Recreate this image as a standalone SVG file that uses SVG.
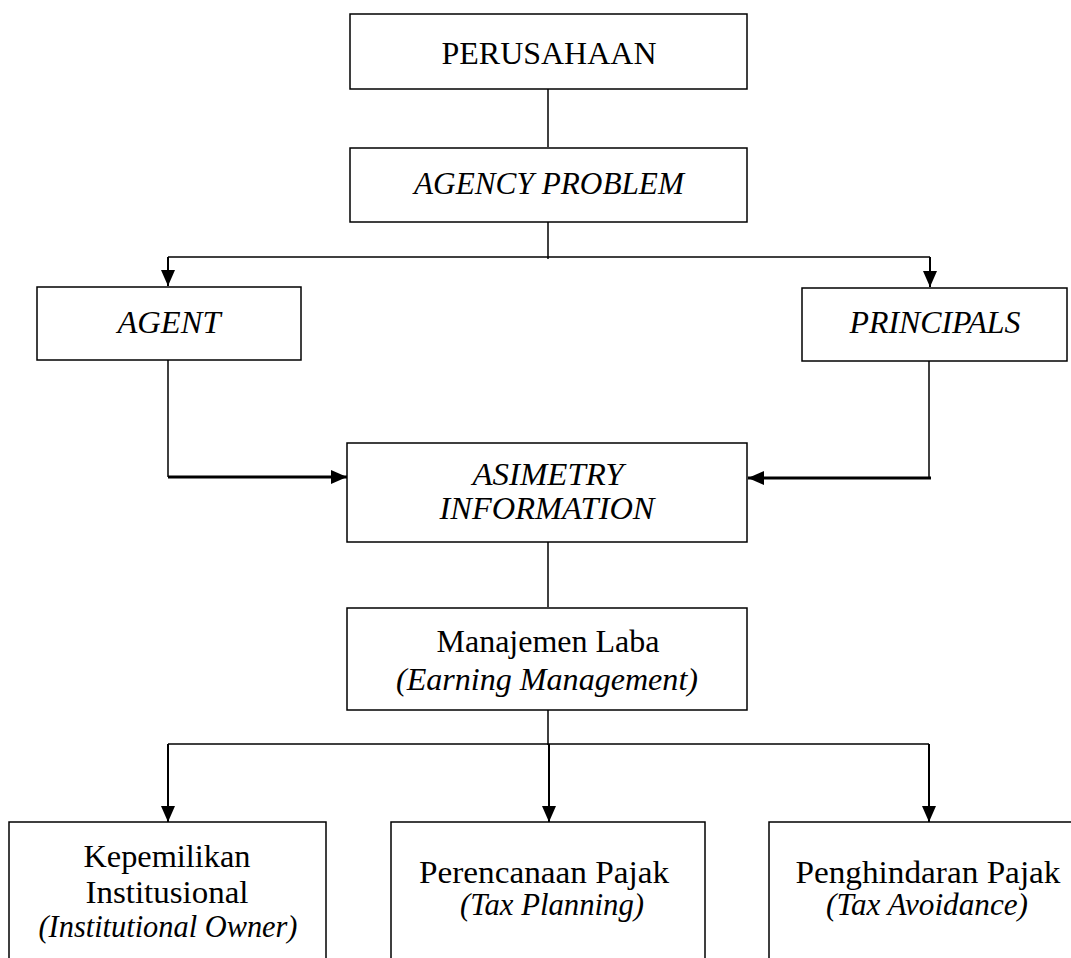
<svg xmlns="http://www.w3.org/2000/svg" width="1071" height="958" viewBox="0 0 1071 958">
<style>
.box{fill:#fff;stroke:#000;stroke-width:1.5}
.t{font-family:"Liberation Serif","Times New Roman",serif;font-size:31px;fill:#000;text-anchor:middle}
.i{font-style:italic}
.ln{stroke:#000;stroke-width:1.5;fill:none}
.ar{stroke:#000;stroke-width:2;fill:none;marker-end:url(#ah)}
.arb{stroke:#000;stroke-width:3;fill:none;marker-end:url(#ah)}
</style>
<defs>
<marker id="ah" markerUnits="userSpaceOnUse" markerWidth="16" markerHeight="14" viewBox="0 0 16 14" refX="16" refY="7" orient="auto">
<path d="M0,0 L16,7 L0,14 Z" fill="#000"/>
</marker>
</defs>
<rect width="1071" height="958" fill="#fff"/>
<g id="connectors">
<line class="ln" x1="548" y1="89" x2="548" y2="147"/>
<line class="ln" x1="548" y1="222" x2="548" y2="259"/>
<line class="ln" x1="168" y1="257" x2="930" y2="257"/>
<line class="ar" x1="168" y1="257" x2="168" y2="286"/>
<line class="ar" x1="930" y1="257" x2="930" y2="287"/>
<line class="ln" x1="168" y1="360" x2="168" y2="477"/>
<line class="arb" x1="168" y1="477" x2="347" y2="477"/>
<line class="ln" x1="929" y1="361" x2="929" y2="478"/>
<line class="arb" x1="931" y1="478" x2="748" y2="478"/>
<line class="ln" x1="548" y1="542" x2="548" y2="607"/>
<line class="ln" x1="548" y1="710" x2="548" y2="745"/>
<line class="ln" x1="168" y1="744" x2="929" y2="744"/>
<line class="ar" x1="168" y1="744" x2="168" y2="822"/>
<line class="ar" x1="549" y1="744" x2="549" y2="822"/>
<line class="ar" x1="929" y1="744" x2="929" y2="822"/>
</g>
<g id="perusahaan">
<rect class="box" x="350" y="14" width="397" height="75"/>
<text class="t" x="549" y="64" textLength="215" lengthAdjust="spacingAndGlyphs">PERUSAHAAN</text>
</g>
<g id="agency-problem">
<rect class="box" x="350" y="148" width="397" height="74"/>
<text class="t i" x="549" y="194" textLength="270" lengthAdjust="spacingAndGlyphs">AGENCY PROBLEM</text>
</g>
<g id="agent">
<rect class="box" x="37" y="287" width="264" height="73"/>
<text class="t i" x="169" y="333" textLength="103" lengthAdjust="spacingAndGlyphs">AGENT</text>
</g>
<g id="principals">
<rect class="box" x="802" y="288" width="265" height="73"/>
<text class="t i" x="935" y="333" textLength="171" lengthAdjust="spacingAndGlyphs">PRINCIPALS</text>
</g>
<g id="asimetry-information">
<rect class="box" x="347" y="443" width="400" height="99"/>
<text class="t i" x="548" y="485" textLength="151" lengthAdjust="spacingAndGlyphs">ASIMETRY</text>
<text class="t i" x="547" y="519" textLength="215" lengthAdjust="spacingAndGlyphs">INFORMATION</text>
</g>
<g id="manajemen-laba">
<rect class="box" x="347" y="608" width="400" height="102"/>
<text class="t" x="548" y="652" textLength="223" lengthAdjust="spacingAndGlyphs">Manajemen Laba</text>
<text class="t i" x="547" y="690" textLength="302" lengthAdjust="spacingAndGlyphs">(Earning Management)</text>
</g>
<g id="kepemilikan">
<rect class="box" x="9" y="822" width="317" height="150"/>
<text class="t" x="167" y="867" textLength="167" lengthAdjust="spacingAndGlyphs">Kepemilikan</text>
<text class="t" x="167" y="903" textLength="163" lengthAdjust="spacingAndGlyphs">Institusional</text>
<text class="t i" x="168" y="937" textLength="259" lengthAdjust="spacingAndGlyphs">(Institutional Owner)</text>
</g>
<g id="perencanaan">
<rect class="box" x="391" y="822" width="314" height="150"/>
<text class="t" x="544" y="883" textLength="250" lengthAdjust="spacingAndGlyphs">Perencanaan Pajak</text>
<text class="t i" x="552" y="915" textLength="184" lengthAdjust="spacingAndGlyphs">(Tax Planning)</text>
</g>
<g id="penghindaran">
<rect class="box" x="769" y="822" width="320" height="150"/>
<text class="t" x="928" y="883" textLength="265" lengthAdjust="spacingAndGlyphs">Penghindaran Pajak</text>
<text class="t i" x="927" y="915" textLength="202" lengthAdjust="spacingAndGlyphs">(Tax Avoidance)</text>
</g>
</svg>
